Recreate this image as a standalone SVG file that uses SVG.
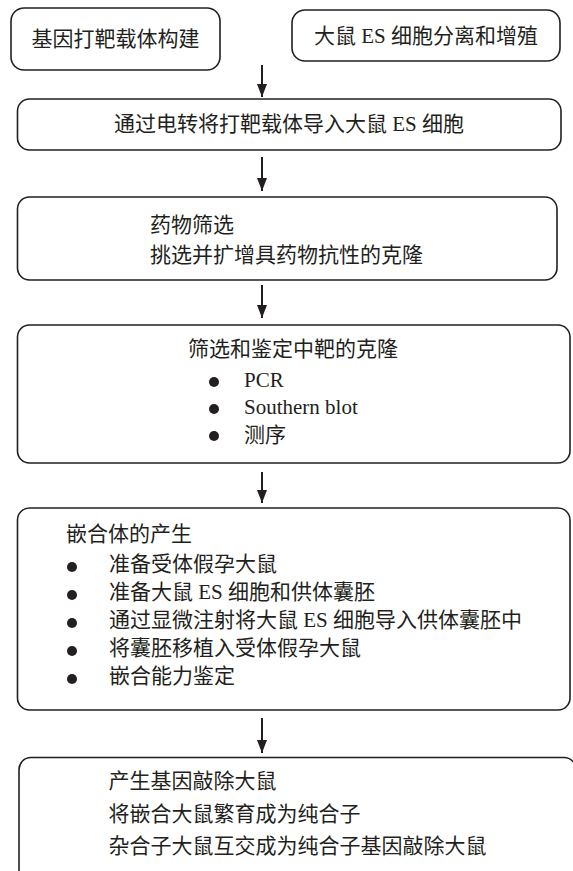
<svg xmlns="http://www.w3.org/2000/svg" width="573" height="871" viewBox="0 0 573 871">
<defs>
<style>
.box{fill:#fff;stroke:#231f20;stroke-width:1.6}
.t{font-family:"Noto Sans CJK SC","Noto Sans",sans-serif;font-size:21px;fill:#231f20}
.lat{font-family:"Liberation Serif","Times New Roman",serif}
.c{text-anchor:middle}
.bul{fill:#231f20}
.ln{stroke:#231f20;stroke-width:2;fill:none}
</style>
<marker id="ah" viewBox="0 0 13 10" refX="13" refY="5" markerWidth="13" markerHeight="10" markerUnits="userSpaceOnUse" orient="auto">
<path d="M0,0 L13,5 L0,10 Z" fill="#231f20"/>
</marker>
</defs>
<rect width="573" height="871" fill="#fff"/>
<g id="n1">
<rect class="box" x="11" y="8" width="209" height="62" rx="13"/>
<text class="t c" x="115.5" y="46">基因打靶载体构建</text>
</g>
<g id="n2">
<rect class="box" x="292" y="10" width="268" height="51" rx="13"/>
<text class="t c" x="426" y="43">大鼠<tspan class="lat"> ES </tspan>细胞分离和增殖</text>
</g>
<g id="n3">
<rect class="box" x="17.5" y="99" width="543.5" height="51" rx="12"/>
<text class="t c" x="289" y="131">通过电转将打靶载体导入大鼠<tspan class="lat"> ES </tspan>细胞</text>
</g>
<g id="n4">
<rect class="box" x="17.5" y="197" width="539.5" height="83" rx="12"/>
<text class="t" x="150" y="232">药物筛选</text>
<text class="t" x="150" y="262">挑选并扩增具药物抗性的克隆</text>
</g>
<g id="n5">
<rect class="box" x="17.5" y="325" width="552.5" height="138" rx="12"/>
<text class="t" x="188" y="356">筛选和鉴定中靶的克隆</text>
<circle class="bul" cx="214" cy="382" r="5"/>
<text class="t lat" x="244" y="387">PCR</text>
<circle class="bul" cx="214" cy="409" r="5"/>
<text class="t lat" x="244" y="414">Southern blot</text>
<circle class="bul" cx="214" cy="436" r="5"/>
<text class="t" x="244" y="442">测序</text>
</g>
<g id="n6">
<rect class="box" x="17.5" y="508" width="552.5" height="202" rx="12"/>
<text class="t" x="66" y="541">嵌合体的产生</text>
<circle class="bul" cx="72" cy="567" r="5"/>
<text class="t" x="109" y="571">准备受体假孕大鼠</text>
<circle class="bul" cx="72" cy="595" r="5"/>
<text class="t" x="109" y="599">准备大鼠<tspan class="lat"> ES </tspan>细胞和供体囊胚</text>
<circle class="bul" cx="72" cy="623" r="5"/>
<text class="t" x="109" y="627">通过显微注射将大鼠<tspan class="lat"> ES </tspan>细胞导入供体囊胚中</text>
<circle class="bul" cx="72" cy="651" r="5"/>
<text class="t" x="109" y="655">将囊胚移植入受体假孕大鼠</text>
<circle class="bul" cx="72" cy="679" r="5"/>
<text class="t" x="109" y="683">嵌合能力鉴定</text>
</g>
<g id="n7">
<rect class="box" x="19" y="757.5" width="557" height="125" rx="12"/>
<text class="t" x="108.5" y="788">产生基因敲除大鼠</text>
<text class="t" x="108.5" y="821">将嵌合大鼠繁育成为纯合子</text>
<text class="t" x="108.5" y="853">杂合子大鼠互交成为纯合子基因敲除大鼠</text>
</g>
<g id="connectors">
<line class="ln" x1="262" y1="65" x2="262" y2="97"  marker-end="url(#ah)"/>
<line class="ln" x1="262" y1="157" x2="262" y2="191" marker-end="url(#ah)"/>
<line class="ln" x1="262" y1="285" x2="262" y2="318" marker-end="url(#ah)"/>
<line class="ln" x1="262" y1="472" x2="262" y2="503" marker-end="url(#ah)"/>
<line class="ln" x1="262" y1="718" x2="262" y2="753" marker-end="url(#ah)"/>
</g>
</svg>
